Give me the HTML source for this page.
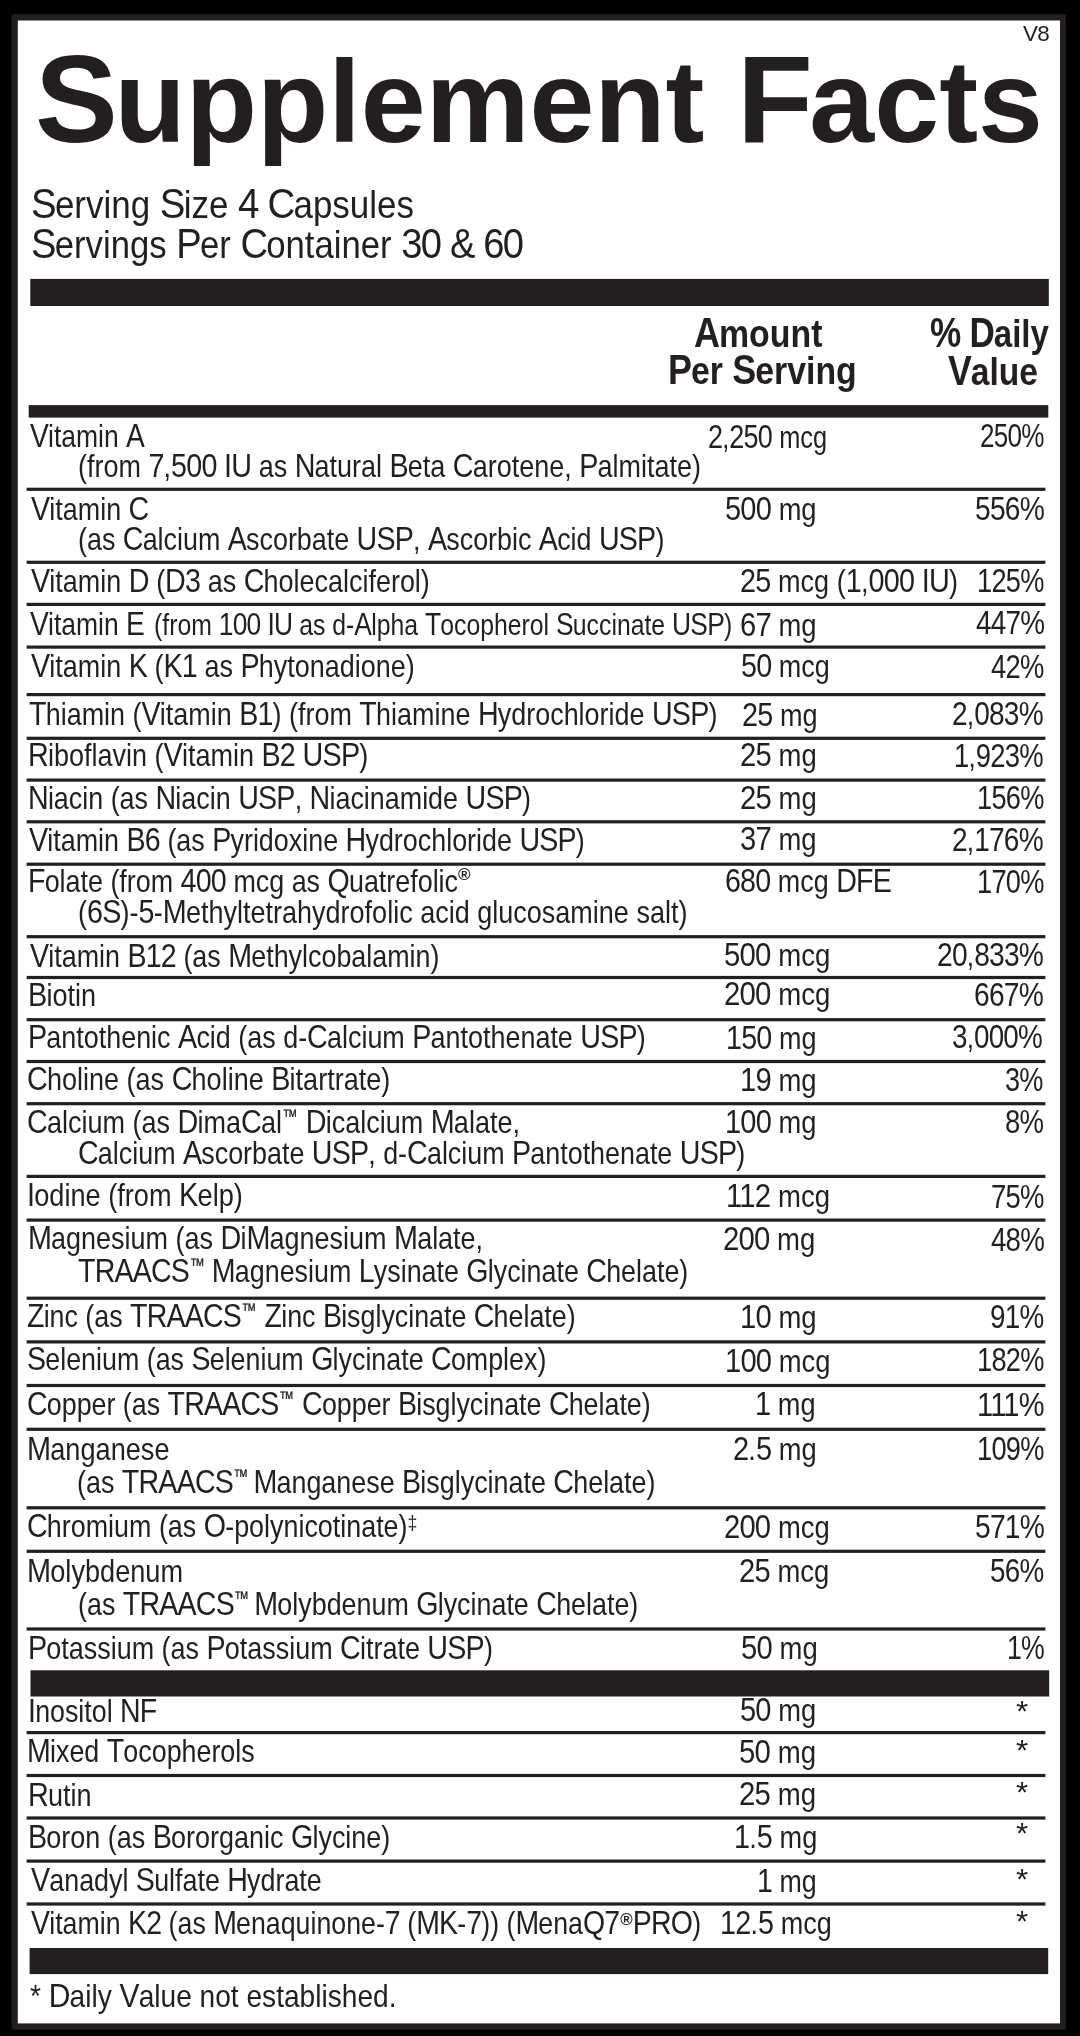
<!DOCTYPE html>
<html lang="en"><head><meta charset="utf-8"><title>Supplement Facts</title>
<style>
html,body{margin:0;padding:0;background:#000;}
body{width:1080px;height:2036px;position:relative;overflow:hidden;font-family:"Liberation Sans",sans-serif;color:#231f20;}
.t{position:absolute;white-space:nowrap;line-height:1;transform-origin:0 0;}
#txt{position:absolute;left:0;top:0;width:1080px;height:2036px;will-change:transform;}
.b{font-weight:bold;}
#rules{position:absolute;left:0;top:0;}
.tm{font-size:63%;display:inline-block;transform:scaleX(0.9);transform-origin:0 50%;position:relative;top:-0.52em;margin:0 -0.08em 0 0.03em;-webkit-text-stroke:0.3px #231f20;}
.tm2{margin-right:-0.27em;}
.tm3{margin-right:-0.13em;}
.reg{font-size:54%;font-weight:bold;display:inline-block;transform:scaleX(1.17);transform-origin:0 50%;position:relative;top:-0.71em;}
.reg2{font-size:54%;top:-0.545em;margin-left:0.04em;margin-right:0.16em;}
.dd{font-size:66%;position:relative;top:-0.36em;}
.c{font-size:106.5%;line-height:0;letter-spacing:-0.028em;}
.c2{font-size:110%;line-height:0;letter-spacing:-0.045em;}
</style></head><body>
<div id="txt">
<svg id="rules" width="1080" height="2036" viewBox="0 0 1080 2036" fill="#231f20">
<rect x="11.6" y="14.2" width="1054.2" height="2015.5"/>
<rect x="17.8" y="20.5" width="1042.2" height="2002.9" fill="#fff"/>
<rect x="30.3" y="278.9" width="1018.5" height="27.1"/>
<rect x="28.7" y="405.1" width="1019.6" height="12.5"/>
<rect x="26.6" y="487.7" width="1018.8" height="3.2"/>
<rect x="26.6" y="560.7" width="1018.8" height="3.2"/>
<rect x="26.6" y="602.8" width="1018.8" height="3.2"/>
<rect x="26.6" y="645.5" width="1018.8" height="3.2"/>
<rect x="26.6" y="693" width="1018.8" height="3.2"/>
<rect x="26.6" y="736.7" width="1018.8" height="3.2"/>
<rect x="26.6" y="778.5" width="1018.8" height="3.2"/>
<rect x="26.6" y="820.2" width="1018.8" height="3.2"/>
<rect x="26.6" y="862.6" width="1018.8" height="3.2"/>
<rect x="26.6" y="935.1" width="1018.8" height="3.2"/>
<rect x="26.6" y="975.9" width="1018.8" height="3.2"/>
<rect x="26.6" y="1018.1" width="1018.8" height="3.2"/>
<rect x="26.6" y="1059.9" width="1018.8" height="3.2"/>
<rect x="26.6" y="1102.1" width="1018.8" height="3.2"/>
<rect x="26.6" y="1174.8" width="1018.8" height="3.2"/>
<rect x="26.6" y="1218.5" width="1018.8" height="3.2"/>
<rect x="26.6" y="1296.6" width="1018.8" height="3.2"/>
<rect x="26.6" y="1340.3" width="1018.8" height="3.2"/>
<rect x="26.6" y="1383.9" width="1018.8" height="3.2"/>
<rect x="26.6" y="1427.7" width="1018.8" height="3.2"/>
<rect x="26.6" y="1506.2" width="1018.8" height="3.2"/>
<rect x="26.6" y="1549.7" width="1018.8" height="3.2"/>
<rect x="26.6" y="1627.4" width="1018.8" height="3.2"/>
<rect x="26.6" y="1731" width="1018.8" height="3.2"/>
<rect x="26.6" y="1773.9" width="1018.8" height="3.2"/>
<rect x="26.6" y="1816.4" width="1018.8" height="3.2"/>
<rect x="26.6" y="1859.5" width="1018.8" height="3.2"/>
<rect x="26.6" y="1902.4" width="1018.8" height="3.2"/>
<rect x="30.5" y="1670.3" width="1018.7" height="26.2"/>
<rect x="29.6" y="1948" width="1018.6" height="26.1"/>
</svg>
<div class="t b" style="left:35.06px;top:43px;font-size:117px;transform:scaleX(0.9975)"><span class="c">S</span>upplement <span class="c">F</span>acts</div>
<div class="t" style="left:1022.6px;top:24px;font-size:20px;transform:scaleX(1.0543)"><span class="c">V8</span></div>
<div class="t" style="left:31.15px;top:185px;font-size:39px;transform:scaleX(0.8959)"><span class="c2">S</span>erving <span class="c2">S</span>ize <span class="c2">4</span> <span class="c2">C</span>apsules</div>
<div class="t" style="left:31.3px;top:225px;font-size:39px;transform:scaleX(0.8894)"><span class="c2">S</span>ervings <span class="c2">P</span>er <span class="c2">C</span>ontainer <span class="c2">30</span> <span class="c2">&amp;</span> <span class="c2">60</span></div>
<div class="t b" style="left:693.52px;top:314px;font-size:39.5px;transform:scaleX(0.857)"><span class="c">A</span>mount</div>
<div class="t b" style="left:668.03px;top:351px;font-size:39.5px;transform:scaleX(0.8554)"><span class="c">P</span>er <span class="c">S</span>erving</div>
<div class="t b" style="left:929.67px;top:314px;font-size:39.5px;transform:scaleX(0.8357)"><span class="c">%</span> <span class="c">D</span>aily</div>
<div class="t b" style="left:948.48px;top:352px;font-size:39.5px;transform:scaleX(0.8496)"><span class="c">V</span>alue</div>
<div class="t" style="left:30.18px;top:421px;font-size:31.5px;transform:scaleX(0.8404)"><span class="c">V</span>itamin <span class="c">A</span></div>
<div class="t" style="left:708.04px;top:422px;font-size:31.5px;transform:scaleX(0.8056)"><span class="c">2</span>,<span class="c">250</span> mcg</div>
<div class="t" style="left:979.65px;top:421px;font-size:31.5px;transform:scaleX(0.7782)"><span class="c">250%</span></div>
<div class="t" style="left:78px;top:451px;font-size:31.5px;transform:scaleX(0.856)">(from <span class="c">7</span>,<span class="c">500</span> <span class="c">IU</span> as <span class="c">N</span>atural <span class="c">B</span>eta <span class="c">C</span>arotene, <span class="c">P</span>almitate)</div>
<div class="t" style="left:30.97px;top:494px;font-size:31.5px;transform:scaleX(0.8545)"><span class="c">V</span>itamin <span class="c">C</span></div>
<div class="t" style="left:725.22px;top:494px;font-size:31.5px;transform:scaleX(0.8665)"><span class="c">500</span> mg</div>
<div class="t" style="left:974.66px;top:494px;font-size:31.5px;transform:scaleX(0.8414)"><span class="c">556%</span></div>
<div class="t" style="left:78.2px;top:524px;font-size:31.5px;transform:scaleX(0.8531)">(as <span class="c">C</span>alcium <span class="c">A</span>scorbate <span class="c">USP</span>, <span class="c">A</span>scorbic <span class="c">A</span>cid <span class="c">USP</span>)</div>
<div class="t" style="left:30.97px;top:566px;font-size:31.5px;transform:scaleX(0.8556)"><span class="c">V</span>itamin <span class="c">D</span> (<span class="c">D3</span> as <span class="c">C</span>holecalciferol)</div>
<div class="t" style="left:739.92px;top:566px;font-size:31.5px;transform:scaleX(0.8598)"><span class="c">25</span> mcg (<span class="c">1</span>,<span class="c">000</span> <span class="c">IU</span>)</div>
<div class="t" style="left:976.5px;top:566px;font-size:31.5px;transform:scaleX(0.8118)"><span class="c">125%</span></div>
<div class="t" style="left:30.12px;top:609px;font-size:31.5px;transform:scaleX(0.8408)"><span class="c">V</span>itamin <span class="c">E</span></div>
<div class="t" style="left:740.26px;top:610px;font-size:31.5px;transform:scaleX(0.8706)"><span class="c">67</span> mg</div>
<div class="t" style="left:975.52px;top:608px;font-size:31.5px;transform:scaleX(0.8308)"><span class="c">447%</span></div>
<div class="t" style="left:30.97px;top:651px;font-size:31.5px;transform:scaleX(0.8555)"><span class="c">V</span>itamin <span class="c">K</span> (<span class="c">K1</span> as <span class="c">P</span>hytonadione)</div>
<div class="t" style="left:741.13px;top:651px;font-size:31.5px;transform:scaleX(0.8572)"><span class="c">50</span> mcg</div>
<div class="t" style="left:990.7px;top:652px;font-size:31.5px;transform:scaleX(0.8168)"><span class="c">42%</span></div>
<div class="t" style="left:29.23px;top:699px;font-size:31.5px;transform:scaleX(0.8549)"><span class="c">T</span>hiamin (<span class="c">V</span>itamin <span class="c">B1</span>) (from <span class="c">T</span>hiamine <span class="c">H</span>ydrochloride <span class="c">USP</span>)</div>
<div class="t" style="left:741.68px;top:700px;font-size:31.5px;transform:scaleX(0.8605)"><span class="c">25</span> mg</div>
<div class="t" style="left:952.36px;top:699px;font-size:31.5px;transform:scaleX(0.8374)"><span class="c">2</span>,<span class="c">083%</span></div>
<div class="t" style="left:27.62px;top:740px;font-size:31.5px;transform:scaleX(0.8574)"><span class="c">R</span>iboflavin (<span class="c">V</span>itamin <span class="c">B2</span> <span class="c">USP</span>)</div>
<div class="t" style="left:740.22px;top:740px;font-size:31.5px;transform:scaleX(0.8727)"><span class="c">25</span> mg</div>
<div class="t" style="left:954.28px;top:741px;font-size:31.5px;transform:scaleX(0.8187)"><span class="c">1</span>,<span class="c">923%</span></div>
<div class="t" style="left:27.82px;top:783px;font-size:31.5px;transform:scaleX(0.8538)"><span class="c">N</span>iacin (as <span class="c">N</span>iacin <span class="c">USP</span>, <span class="c">N</span>iacinamide <span class="c">USP</span>)</div>
<div class="t" style="left:740.22px;top:783px;font-size:31.5px;transform:scaleX(0.8727)"><span class="c">25</span> mg</div>
<div class="t" style="left:976.5px;top:783px;font-size:31.5px;transform:scaleX(0.8118)"><span class="c">156%</span></div>
<div class="t" style="left:29.17px;top:825px;font-size:31.5px;transform:scaleX(0.8536)"><span class="c">V</span>itamin <span class="c">B6</span> (as <span class="c">P</span>yridoxine <span class="c">H</span>ydrochloride <span class="c">USP</span>)</div>
<div class="t" style="left:739.87px;top:824px;font-size:31.5px;transform:scaleX(0.8707)"><span class="c">37</span> mg</div>
<div class="t" style="left:952.36px;top:825px;font-size:31.5px;transform:scaleX(0.8374)"><span class="c">2</span>,<span class="c">176%</span></div>
<div class="t" style="left:27.82px;top:866px;font-size:31.5px;transform:scaleX(0.8532)"><span class="c">F</span>olate (from <span class="c">400</span> mcg as <span class="c">Q</span>uatrefolic<span class="reg">&#174;</span></div>
<div class="t" style="left:724.84px;top:866px;font-size:31.5px;transform:scaleX(0.8538)"><span class="c">680</span> mcg <span class="c">DFE</span></div>
<div class="t" style="left:976.5px;top:867px;font-size:31.5px;transform:scaleX(0.8118)"><span class="c">170%</span></div>
<div class="t" style="left:77.58px;top:897px;font-size:31.5px;transform:scaleX(0.8576)">(<span class="c">6S</span>)-<span class="c">5</span>-<span class="c">M</span>ethyltetrahydrofolic acid glucosamine salt)</div>
<div class="t" style="left:30.17px;top:941px;font-size:31.5px;transform:scaleX(0.8531)"><span class="c">V</span>itamin <span class="c">B12</span> (as <span class="c">M</span>ethylcobalamin)</div>
<div class="t" style="left:724.49px;top:940px;font-size:31.5px;transform:scaleX(0.8763)"><span class="c">500</span> mcg</div>
<div class="t" style="left:937.06px;top:940px;font-size:31.5px;transform:scaleX(0.8412)"><span class="c">20</span>,<span class="c">833%</span></div>
<div class="t" style="left:27.54px;top:980px;font-size:31.5px;transform:scaleX(0.8575)"><span class="c">B</span>iotin</div>
<div class="t" style="left:724.1px;top:979px;font-size:31.5px;transform:scaleX(0.8757)"><span class="c">200</span> mcg</div>
<div class="t" style="left:974.26px;top:980px;font-size:31.5px;transform:scaleX(0.8404)"><span class="c">667%</span></div>
<div class="t" style="left:27.82px;top:1022px;font-size:31.5px;transform:scaleX(0.8547)"><span class="c">P</span>antothenic <span class="c">A</span>cid (as d-<span class="c">C</span>alcium <span class="c">P</span>antothenate <span class="c">USP</span>)</div>
<div class="t" style="left:725.85px;top:1023px;font-size:31.5px;transform:scaleX(0.8569)"><span class="c">150</span> mg</div>
<div class="t" style="left:951.52px;top:1022px;font-size:31.5px;transform:scaleX(0.8295)"><span class="c">3</span>,<span class="c">000%</span></div>
<div class="t" style="left:26.88px;top:1064px;font-size:31.5px;transform:scaleX(0.8577)"><span class="c">C</span>holine (as <span class="c">C</span>holine <span class="c">B</span>itartrate)</div>
<div class="t" style="left:739.97px;top:1065px;font-size:31.5px;transform:scaleX(0.8716)"><span class="c">19</span> mg</div>
<div class="t" style="left:1005.41px;top:1065px;font-size:31.5px;transform:scaleX(0.809)"><span class="c">3%</span></div>
<div class="t" style="left:26.88px;top:1107px;font-size:31.5px;transform:scaleX(0.8574)"><span class="c">C</span>alcium (as <span class="c">D</span>ima<span class="c">C</span>al<span class="tm">&#8482;</span> <span class="c">D</span>icalcium <span class="c">M</span>alate,</div>
<div class="t" style="left:725.23px;top:1107px;font-size:31.5px;transform:scaleX(0.8658)"><span class="c">100</span> mg</div>
<div class="t" style="left:1005.24px;top:1107px;font-size:31.5px;transform:scaleX(0.8205)"><span class="c">8%</span></div>
<div class="t" style="left:77.51px;top:1138px;font-size:31.5px;transform:scaleX(0.8531)"><span class="c">C</span>alcium <span class="c">A</span>scorbate <span class="c">USP</span>, d-<span class="c">C</span>alcium <span class="c">P</span>antothenate <span class="c">USP</span>)</div>
<div class="t" style="left:26.93px;top:1180px;font-size:31.5px;transform:scaleX(0.8617)"><span class="c">I</span>odine (from <span class="c">K</span>elp)</div>
<div class="t" style="left:725.74px;top:1181px;font-size:31.5px;transform:scaleX(0.8749)"><span class="c">112</span> mcg</div>
<div class="t" style="left:991.27px;top:1182px;font-size:31.5px;transform:scaleX(0.8197)"><span class="c">75%</span></div>
<div class="t" style="left:27.66px;top:1223px;font-size:31.5px;transform:scaleX(0.8562)"><span class="c">M</span>agnesium (as <span class="c">D</span>i<span class="c">M</span>agnesium <span class="c">M</span>alate,</div>
<div class="t" style="left:723.21px;top:1224px;font-size:31.5px;transform:scaleX(0.8737)"><span class="c">200</span> mg</div>
<div class="t" style="left:990.55px;top:1225px;font-size:31.5px;transform:scaleX(0.8257)"><span class="c">48%</span></div>
<div class="t" style="left:77.85px;top:1256px;font-size:31.5px;transform:scaleX(0.8524)"><span class="c">TRAACS</span><span class="tm tm3">&#8482;</span> <span class="c">M</span>agnesium <span class="c">L</span>ysinate <span class="c">G</span>lycinate <span class="c">C</span>helate)</div>
<div class="t" style="left:26.7px;top:1301px;font-size:31.5px;transform:scaleX(0.8512)"><span class="c">Z</span>inc (as <span class="c">TRAACS</span><span class="tm">&#8482;</span> <span class="c">Z</span>inc <span class="c">B</span>isglycinate <span class="c">C</span>helate)</div>
<div class="t" style="left:739.97px;top:1302px;font-size:31.5px;transform:scaleX(0.8716)"><span class="c">10</span> mg</div>
<div class="t" style="left:990.02px;top:1302px;font-size:31.5px;transform:scaleX(0.8305)"><span class="c">91%</span></div>
<div class="t" style="left:27.01px;top:1344px;font-size:31.5px;transform:scaleX(0.852)"><span class="c">S</span>elenium (as <span class="c">S</span>elenium <span class="c">G</span>lycinate <span class="c">C</span>omplex)</div>
<div class="t" style="left:725.02px;top:1346px;font-size:31.5px;transform:scaleX(0.869)"><span class="c">100</span> mcg</div>
<div class="t" style="left:976.5px;top:1345px;font-size:31.5px;transform:scaleX(0.8118)"><span class="c">182%</span></div>
<div class="t" style="left:27.25px;top:1389px;font-size:31.5px;transform:scaleX(0.8514)"><span class="c">C</span>opper (as <span class="c">TRAACS</span><span class="tm">&#8482;</span> <span class="c">C</span>opper <span class="c">B</span>isglycinate <span class="c">C</span>helate)</div>
<div class="t" style="left:755.47px;top:1389px;font-size:31.5px;transform:scaleX(0.8627)"><span class="c">1</span> mg</div>
<div class="t" style="left:977.12px;top:1390px;font-size:31.5px;transform:scaleX(0.8659)"><span class="c">111%</span></div>
<div class="t" style="left:27.39px;top:1434px;font-size:31.5px;transform:scaleX(0.8616)"><span class="c">M</span>anganese</div>
<div class="t" style="left:732.89px;top:1434px;font-size:31.5px;transform:scaleX(0.8649)"><span class="c">2</span>.<span class="c">5</span> mg</div>
<div class="t" style="left:976.5px;top:1434px;font-size:31.5px;transform:scaleX(0.8118)"><span class="c">109%</span></div>
<div class="t" style="left:76.81px;top:1467px;font-size:31.5px;transform:scaleX(0.8535)">(as <span class="c">TRAACS</span><span class="tm tm2">&#8482;</span> <span class="c">M</span>anganese <span class="c">B</span>isglycinate <span class="c">C</span>helate)</div>
<div class="t" style="left:27.3px;top:1511px;font-size:31.5px;transform:scaleX(0.8535)"><span class="c">C</span>hromium (as <span class="c">O</span>-polynicotinate)<span class="dd">&#8225;</span></div>
<div class="t" style="left:723.89px;top:1512px;font-size:31.5px;transform:scaleX(0.8715)"><span class="c">200</span> mcg</div>
<div class="t" style="left:974.66px;top:1512px;font-size:31.5px;transform:scaleX(0.8414)"><span class="c">571%</span></div>
<div class="t" style="left:27.41px;top:1556px;font-size:31.5px;transform:scaleX(0.8616)"><span class="c">M</span>olybdenum</div>
<div class="t" style="left:739.45px;top:1556px;font-size:31.5px;transform:scaleX(0.8706)"><span class="c">25</span> mcg</div>
<div class="t" style="left:990.12px;top:1556px;font-size:31.5px;transform:scaleX(0.8301)"><span class="c">56%</span></div>
<div class="t" style="left:77.58px;top:1589px;font-size:31.5px;transform:scaleX(0.8529)">(as <span class="c">TRAACS</span><span class="tm tm2">&#8482;</span> <span class="c">M</span>olybdenum <span class="c">G</span>lycinate <span class="c">C</span>helate)</div>
<div class="t" style="left:27.75px;top:1633px;font-size:31.5px;transform:scaleX(0.855)"><span class="c">P</span>otassium (as <span class="c">P</span>otassium <span class="c">C</span>itrate <span class="c">USP</span>)</div>
<div class="t" style="left:740.77px;top:1633px;font-size:31.5px;transform:scaleX(0.8722)"><span class="c">50</span> mg</div>
<div class="t" style="left:1006.68px;top:1633px;font-size:31.5px;transform:scaleX(0.7957)"><span class="c">1%</span></div>
<div class="t" style="left:27.79px;top:1696px;font-size:31.5px;transform:scaleX(0.8508)"><span class="c">I</span>nositol <span class="c">NF</span></div>
<div class="t" style="left:740.2px;top:1695px;font-size:31.5px;transform:scaleX(0.8668)"><span class="c">50</span> mg</div>
<div class="t" style="left:1016.01px;top:1697px;font-size:29px;transform:scaleX(1.0768)">*</div>
<div class="t" style="left:26.86px;top:1736px;font-size:31.5px;transform:scaleX(0.852)"><span class="c">M</span>ixed <span class="c">T</span>ocopherols</div>
<div class="t" style="left:739.45px;top:1737px;font-size:31.5px;transform:scaleX(0.8755)"><span class="c">50</span> mg</div>
<div class="t" style="left:1016.01px;top:1736px;font-size:29px;transform:scaleX(1.0768)">*</div>
<div class="t" style="left:27.65px;top:1780px;font-size:31.5px;transform:scaleX(0.858)"><span class="c">R</span>utin</div>
<div class="t" style="left:739.32px;top:1779px;font-size:31.5px;transform:scaleX(0.8764)"><span class="c">25</span> mg</div>
<div class="t" style="left:1016.01px;top:1778px;font-size:29px;transform:scaleX(1.0768)">*</div>
<div class="t" style="left:27.67px;top:1822px;font-size:31.5px;transform:scaleX(0.8556)"><span class="c">B</span>oron (as <span class="c">B</span>ororganic <span class="c">G</span>lycine)</div>
<div class="t" style="left:733.69px;top:1822px;font-size:31.5px;transform:scaleX(0.861)"><span class="c">1</span>.<span class="c">5</span> mg</div>
<div class="t" style="left:1016.01px;top:1819px;font-size:29px;transform:scaleX(1.0768)">*</div>
<div class="t" style="left:30.97px;top:1865px;font-size:31.5px;transform:scaleX(0.8524)"><span class="c">V</span>anadyl <span class="c">S</span>ulfate <span class="c">H</span>ydrate</div>
<div class="t" style="left:757.04px;top:1866px;font-size:31.5px;transform:scaleX(0.8508)"><span class="c">1</span> mg</div>
<div class="t" style="left:1016.01px;top:1865px;font-size:29px;transform:scaleX(1.0768)">*</div>
<div class="t" style="left:31.19px;top:1908px;font-size:31.5px;transform:scaleX(0.8489)"><span class="c">V</span>itamin <span class="c">K2</span> (as <span class="c">M</span>enaquinone-<span class="c">7</span> (<span class="c">MK</span>-<span class="c">7</span>)) (<span class="c">M</span>ena<span class="c">Q7</span><span class="reg reg2">&#174;</span><span class="c">PRO</span>)</div>
<div class="t" style="left:719.9px;top:1908px;font-size:31.5px;transform:scaleX(0.8582)"><span class="c">12</span>.<span class="c">5</span> mcg</div>
<div class="t" style="left:1016.01px;top:1907px;font-size:29px;transform:scaleX(1.0768)">*</div>
<div class="t" style="left:154.14px;top:610px;font-size:30.3px;transform:scaleX(0.8179)">(from <span class="c">100</span> <span class="c">IU</span> as d-<span class="c">A</span>lpha <span class="c">T</span>ocopherol <span class="c">S</span>uccinate <span class="c">USP</span>)</div>
<div class="t" style="left:29.6px;top:1981px;font-size:31.5px;transform:scaleX(0.8922)">* <span class="c">D</span>aily <span class="c">V</span>alue not established.</div>
</div>
</body></html>
